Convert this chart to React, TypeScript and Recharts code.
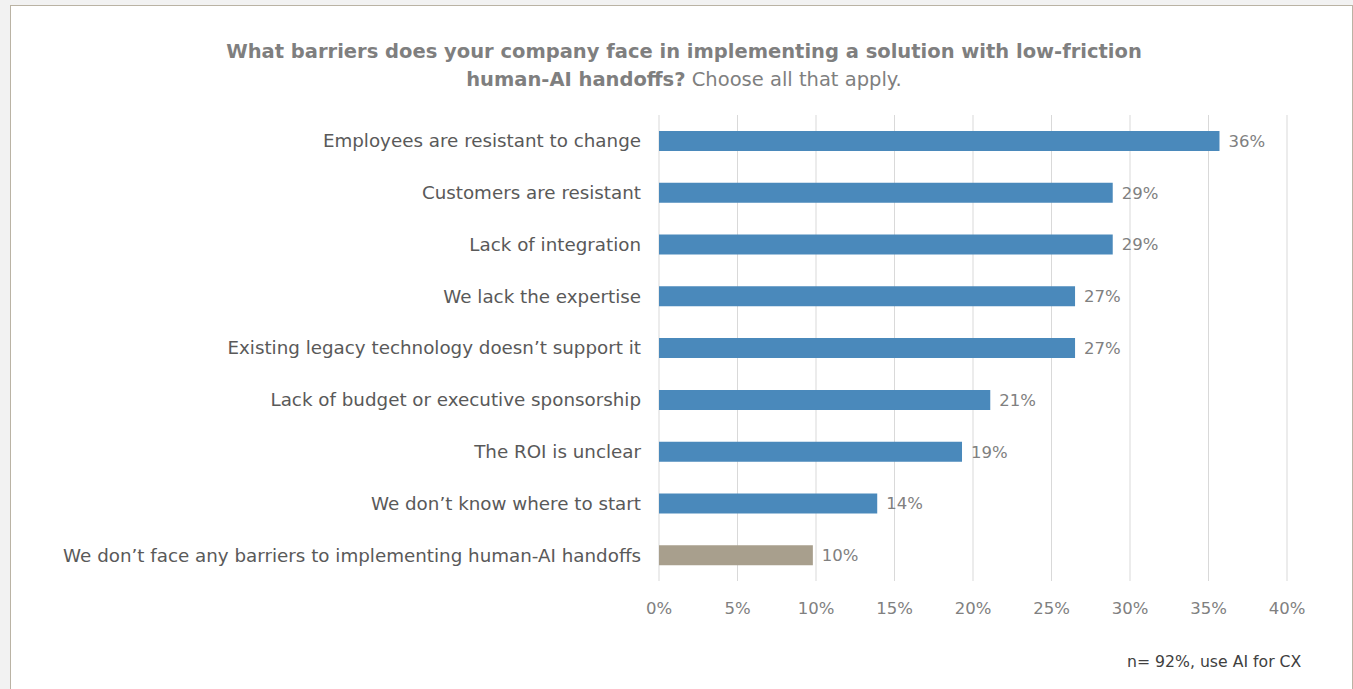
import React from 'react';
import { BarChart, Bar, XAxis, YAxis, CartesianGrid, LabelList, Cell } from 'recharts';

// Survey answers, top to bottom
const BARRIERS = [
  'Employees are resistant to change',
  'Customers are resistant',
  'Lack of integration',
  'We lack the expertise',
  'Existing legacy technology doesn\u2019t support it',
  'Lack of budget or executive sponsorship',
  'The ROI is unclear',
  'We don\u2019t know where to start',
  'We don\u2019t face any barriers to implementing human-AI handoffs',
];
const SHARES = [35.7, 28.9, 28.9, 26.5, 26.5, 21.1, 19.3, 13.9, 9.8];
const X_TICKS = [0, 5, 10, 15, 20, 25, 30, 35, 40];

const BLUE = '#4a89bb';
const TAN = '#a89f8d';
const FONT = '"DejaVu Sans", sans-serif';

const data = BARRIERS.map((name, i) => ({ name, share: SHARES[i] }));

const App: React.FC = () => {
  return (
    <div style={{ position: 'absolute', left: 0, top: 0, width: 1353, height: 689, background: '#f2f2f2', overflow: 'hidden', fontFamily: FONT }}>
      <div style={{ position: 'absolute', left: 10, top: 5, width: 1341, height: 700, background: '#fff', border: '1px solid #bab3a4' }} />

      <div style={{ position: 'absolute', left: 0, top: 38, width: 1368, textAlign: 'center', color: '#7f7f7f', fontSize: 19.5, lineHeight: '28px' }}>
        <div style={{ fontWeight: 'bold' }}>What barriers does your company face in implementing a solution with low-friction</div>
        <div><span style={{ fontWeight: 'bold' }}>human-AI handoffs?</span> Choose all that apply.</div>
      </div>

      <div style={{ position: 'absolute', left: 0, top: 0 }}>
        <BarChart
          width={1353}
          height={689}
          data={data}
          layout="vertical"
          margin={{ top: 115, right: 66, bottom: 78, left: 0 }}
        >
          <CartesianGrid horizontal={false} stroke="#d9d9d9" />
          <XAxis
            type="number"
            domain={[0, 40]}
            ticks={X_TICKS}
            tickFormatter={(v) => `${v}%`}
            axisLine={false}
            tickLine={false}
            tickMargin={15}
            height={30}
            tick={{ fill: '#808080', fontSize: 16.5, fontFamily: FONT }}
          />
          <YAxis
            type="category"
            dataKey="name"
            width={659}
            axisLine={false}
            tickLine={false}
            tickMargin={12}
            tick={{ fill: '#595959', fontSize: 18.3, fontFamily: FONT }}
          />
          <Bar dataKey="share" barSize={20} isAnimationActive={false}>
            {data.map((d, i) => (
              <Cell key={d.name} fill={i === data.length - 1 ? TAN : BLUE} />
            ))}
            <LabelList
              dataKey="share"
              position="right"
              offset={9}
              formatter={(v: any) => `${Math.round(v)}%`}
              style={{ fill: '#808080', fontSize: 16.5, fontFamily: FONT }}
            />
          </Bar>
        </BarChart>
      </div>

      <div style={{ position: 'absolute', left: 1127, top: 652, color: '#404040', fontSize: 15.7 }}>
        n= 92%, use AI for CX
      </div>
    </div>
  );
};

export default App;
